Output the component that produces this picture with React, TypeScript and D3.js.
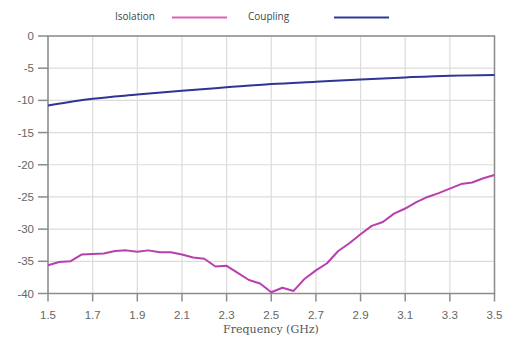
import React from "react";
import * as d3 from "d3";

const freqs = [1.5,1.55,1.6,1.65,1.7,1.75,1.8,1.85,1.9,1.95,2.0,2.05,2.1,2.15,2.2,2.25,2.3,2.35,2.4,2.45,2.5,2.55,2.6,2.65,2.7,2.75,2.8,2.85,2.9,2.95,3.0,3.05,3.1,3.15,3.2,3.25,3.3,3.35,3.4,3.45,3.5];
const isolation = [-35.6,-35.1,-35.0,-33.95,-33.85,-33.8,-33.4,-33.3,-33.5,-33.3,-33.6,-33.6,-33.95,-34.4,-34.6,-35.8,-35.7,-36.8,-37.9,-38.45,-39.8,-39.1,-39.6,-37.7,-36.4,-35.3,-33.4,-32.2,-30.8,-29.5,-28.9,-27.6,-26.8,-25.8,-25.0,-24.4,-23.7,-23.0,-22.75,-22.1,-21.6];
const couplingFreqs = [1.5,1.7,1.9,2.1,2.3,2.5,2.7,2.9,3.1,3.3,3.5];
const coupling = [-10.8,-9.75,-9.1,-8.5,-7.98,-7.47,-7.1,-6.74,-6.43,-6.17,-6.05];
const xTicks = [1.5,1.7,1.9,2.1,2.3,2.5,2.7,2.9,3.1,3.3,3.5];
const yTicks = [0,-5,-10,-15,-20,-25,-30,-35,-40];

export default function App() {
  const W = 511, H = 339;
  const x = d3.scaleLinear().domain([1.5, 3.5]).range([48, 494.5]);
  const y = d3.scaleLinear().domain([0, -40]).range([36, 293.5]);
  const isoLine = d3.line<number>().x((_, i) => x(freqs[i])).y(d => y(d));
  const coupLine = d3.line<number>().x((_, i) => x(couplingFreqs[i])).y(d => y(d)).curve(d3.curveMonotoneX);
  const tickFont = "'Liberation Sans', Arial, sans-serif";
  return (
    <svg width={W} height={H} style={{ position: "absolute", left: 0, top: 0, background: "#fff" }}>
      <rect x={0} y={0} width={W} height={H} fill="#fff" />
      {yTicks.map(t => (
        <line key={"gy" + t} x1={x(1.5)} x2={x(3.5)} y1={y(t)} y2={y(t)} stroke="#dcdcdc" strokeWidth={1.2} />
      ))}
      {xTicks.map(t => (
        <line key={"gx" + t} x1={x(t)} x2={x(t)} y1={y(0)} y2={y(-40)} stroke="#dcdcdc" strokeWidth={1.2} />
      ))}
      <rect x={x(1.5)} y={y(0)} width={x(3.5) - x(1.5)} height={y(-40) - y(0)} fill="none" stroke="#8c8c8c" strokeWidth={1.5} />
      {yTicks.map(t => (
        <g key={"ty" + t}>
          <line x1={x(1.5) - 10} x2={x(1.5)} y1={y(t)} y2={y(t)} stroke="#8c8c8c" strokeWidth={1.5} />
          <text x={34} y={y(t) + 4} textAnchor="end" fontSize={11.5} fill="#666" fontFamily={tickFont}>{t}</text>
        </g>
      ))}
      {xTicks.map(t => (
        <g key={"tx" + t}>
          <line x1={x(t)} x2={x(t)} y1={y(-40)} y2={y(-40) + 8} stroke="#8c8c8c" strokeWidth={1.5} />
          <text x={x(t)} y={319} textAnchor="middle" fontSize={11.5} fill="#666" fontFamily={tickFont}>{t.toFixed(1)}</text>
        </g>
      ))}
      <text x={271} y={333} textAnchor="middle" fontSize={11} fill="#555" fontFamily="'DejaVu Serif', serif">Frequency (GHz)</text>
      <path d={coupLine(coupling) || ""} fill="none" stroke="#2e3592" strokeWidth={2} />
      <path d={isoLine(isolation) || ""} fill="none" stroke="#b83fae" strokeWidth={2} strokeLinejoin="round" />
      <text x={115} y={20} fontSize={10} fill="#444" fontFamily="'Open Sans', sans-serif">Isolation</text>
      <line x1={172} x2={227} y1={17.5} y2={17.5} stroke="#e060b8" strokeWidth={2} />
      <text x={248} y={20} fontSize={10} fill="#444" fontFamily="'Open Sans', sans-serif">Coupling</text>
      <line x1={334} x2={389} y1={17.5} y2={17.5} stroke="#2e3a9a" strokeWidth={2} />
    </svg>
  );
}
